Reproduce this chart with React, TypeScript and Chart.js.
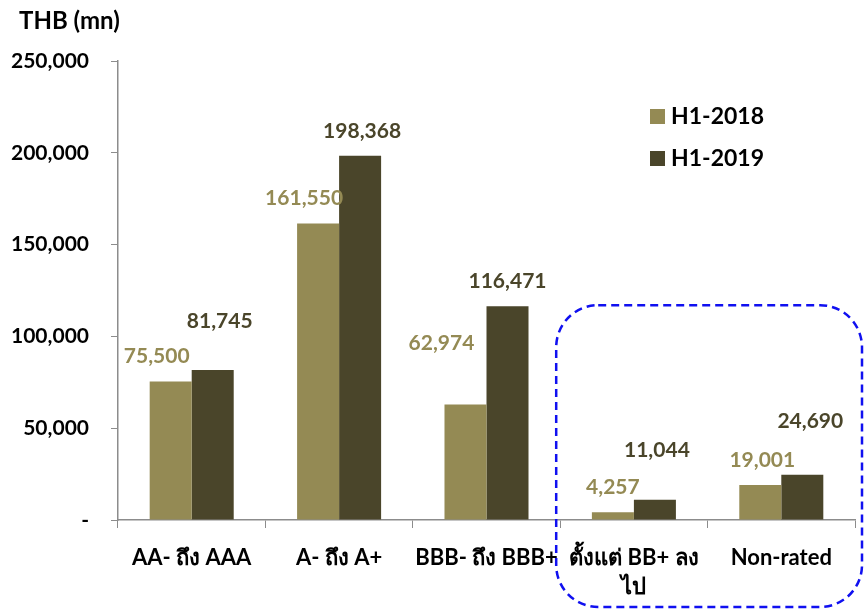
import React, { useEffect, useRef } from "react";
import { Chart, registerables } from "chart.js";

Chart.register(...registerables);

const categories: (string | string[])[] = [
  "AA- ถึง AAA",
  "A- ถึง A+",
  "BBB- ถึง BBB+",
  ["ตั้งแต่ BB+ ลง", "ไป"],
  "Non-rated",
];
const seriesNames = ["H1-2018", "H1-2019"];
const values2018 = [75500, 161550, 62974, 4257, 19001];
const values2019 = [81745, 198368, 116471, 11044, 24690];
const yTicks = [0, 50000, 100000, 150000, 200000, 250000];

const COLOR_2018 = "#948A54";
const COLOR_2019 = "#4A452A";
const FONT = "Lato, 'Noto Sans', 'DejaVu Sans', sans-serif";

// label nudges (px) so the value texts don't collide with neighbouring bars
const labelShift2018 = [
  [-14, 0],
  [-14, 0],
  [-24, -36],
  [0, 0],
  [2, 0],
];
const labelShift2019 = [
  [7, -24],
  [2, 0],
  [0, 0],
  [2, -24],
  [8, -28],
];

const valueLabels = {
  id: "valueLabels",
  afterDatasetsDraw(chart: any) {
    const ctx = chart.ctx;
    ctx.save();
    ctx.font = `bold 21px ${FONT}`;
    ctx.textAlign = "center";
    ctx.textBaseline = "middle";
    chart.data.datasets.forEach((ds: any, di: number) => {
      const meta = chart.getDatasetMeta(di);
      const shifts = di === 0 ? labelShift2018 : labelShift2019;
      ctx.fillStyle = ds.backgroundColor;
      meta.data.forEach((bar: any, i: number) => {
        const v = ds.data[i] as number;
        const [dx, dy] = shifts[i];
        ctx.fillText(v.toLocaleString("en-US"), bar.x + dx, bar.y - 25 + dy);
      });
    });
    ctx.restore();
  },
};

const extras = {
  id: "extras",
  afterDraw(chart: any) {
    const ctx = chart.ctx;
    const x = chart.scales.x;
    const y = chart.scales.y;
    ctx.save();

    // unit caption
    ctx.font = `bold 24px ${FONT}`;
    ctx.fillStyle = "#000";
    ctx.textAlign = "left";
    ctx.textBaseline = "middle";
    ctx.fillText("THB (mn)", 19, 21);

    // legend
    chart.data.datasets.forEach((ds: any, i: number) => {
      const ly = 116 + i * 42;
      ctx.fillStyle = ds.backgroundColor;
      ctx.fillRect(650, ly - 7, 15, 15);
      ctx.fillStyle = "#000";
      ctx.font = `bold 23px ${FONT}`;
      ctx.fillText(ds.label, 671, ly + 1);
    });

    // dashed rounded box around the last two groups
    const half = (x.getPixelForValue(1) - x.getPixelForValue(0)) / 2;
    const left = x.getPixelForValue(3) - half - 4;
    const right = x.getPixelForValue(4) + half + 7;
    const top = y.getPixelForValue(117000);
    const bottom = chart.height - 4;
    ctx.strokeStyle = "#1010F0";
    ctx.lineWidth = 2.5;
    ctx.setLineDash([8, 5]);
    ctx.beginPath();
    ctx.roundRect(left, top, right - left, bottom - top, 42);
    ctx.stroke();
    ctx.restore();
  },
};

export default function App() {
  const ref = useRef<HTMLCanvasElement | null>(null);

  useEffect(() => {
    document.body.style.margin = "0";
    const canvas = ref.current!;
    const chart = new Chart(canvas, {
      type: "bar",
      data: {
        labels: categories,
        datasets: [
          { label: seriesNames[0], data: values2018, backgroundColor: COLOR_2018 },
          { label: seriesNames[1], data: values2019, backgroundColor: COLOR_2019 },
        ],
      },
      options: {
        responsive: false,
        animation: false,
        layout: { padding: { left: 0, right: 10, top: 61, bottom: 0 } },
        plugins: {
          legend: { display: false },
          tooltip: { enabled: false },
        },
        datasets: {
          bar: { categoryPercentage: 0.57, barPercentage: 1 },
        },
        scales: {
          x: {
            grid: {
              display: true,
              drawOnChartArea: false,
              drawTicks: true,
              tickLength: 8,
              color: "#8C8C8C",
              offset: true,
            },
            border: { color: "#8C8C8C", width: 1.5 },
            ticks: {
              color: "#000",
              font: { family: FONT, size: 22, weight: "bold", lineHeight: 1.3 },
              padding: 16,
              maxRotation: 0,
              autoSkip: false,
            },
            afterFit(scale: any) {
              scale.height = 91;
            },
          },
          y: {
            min: 0,
            max: 250000,
            afterBuildTicks(scale: any) {
              scale.ticks = yTicks.map((v) => ({ value: v }));
            },
            grid: {
              display: true,
              drawOnChartArea: false,
              drawTicks: true,
              tickLength: 7,
              color: "#8C8C8C",
            },
            border: { color: "#8C8C8C", width: 1.5 },
            ticks: {
              color: "#000",
              font: { family: FONT, size: 21, weight: "bold" },
              padding: 22,
              callback: (v: any) => (Number(v) === 0 ? "-" : Number(v).toLocaleString("en-US")),
            },
            afterFit(scale: any) {
              scale.width = 118;
            },
          },
        },
      },
      plugins: [valueLabels, extras],
    });
    return () => chart.destroy();
  }, []);

  return (
    <div style={{ width: 865, height: 611, background: "#fff" }}>
      <canvas ref={ref} width={865} height={611} style={{ display: "block" }} />
    </div>
  );
}
